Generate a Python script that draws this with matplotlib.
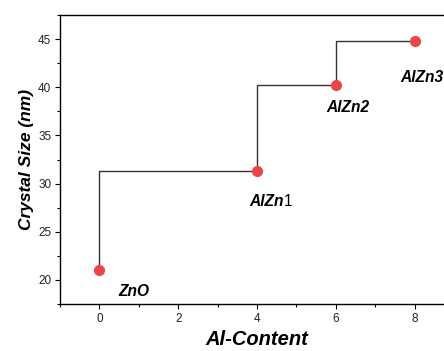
import matplotlib
matplotlib.use("Agg")
import matplotlib.pyplot as plt

plt.rcParams['font.family'] = ['Liberation Sans', 'DejaVu Sans']

al_content = [0, 4, 6, 8]
crystal_size = [21.0, 31.3, 40.2, 44.8]
sample_names = ["ZnO", "AlZn1", "AlZn2", "AlZn3"]
label_pos = [(0.87, 18.3), (4.68, 27.65), (6.3, 37.45), (8.18, 40.55)]
x_ticks = [0, 2, 4, 6, 8]
y_ticks = [20, 25, 30, 35, 40, 45]

fig = plt.figure(figsize=(4.44, 3.51), dpi=100)
ax = fig.add_axes([60/444, 1-304/351, 394/444, 289/351])

ax.plot(al_content, crystal_size, drawstyle='steps-pre', color='#333333', lw=1.0, zorder=2)
ax.plot(al_content, crystal_size, 'o', color='#ef4444', ms=7.0, mec='#ef4444', zorder=3)

label_font = dict(fontsize=11.2, fontweight='bold', fontstyle='italic')
for name, (lx, ly) in zip(sample_names, label_pos):
    if name == "AlZn1":
        t = ax.text(lx, ly, "AlZn", ha='right', va='baseline', **label_font)
        ax.annotate("1", xy=(1, 0), xycoords=t, fontsize=11.2, ha='left', va='bottom')
    else:
        ax.text(lx, ly, name, ha='center', va='baseline', **label_font)

ax.set_xlim(-1, 9)
ax.set_ylim(17.5, 47.5)
ax.set_xticks(x_ticks)
ax.set_yticks(y_ticks)
ax.set_xticks([-1, 1, 3, 5, 7], minor=True)
ax.set_yticks([17.5, 22.5, 27.5, 32.5, 37.5, 42.5, 47.5], minor=True)
ax.tick_params(axis='both', which='major', direction='out', length=3.8, width=0.8,
               labelsize=8.5, labelcolor='#222222', pad=2.5)
ax.tick_params(axis='both', which='minor', direction='out', length=2.2, width=0.8)
ax.tick_params(axis='both', top=False, right=False)

for side in ['left', 'bottom', 'top']:
    ax.spines[side].set_linewidth(1.0)
ax.spines['right'].set_visible(False)

ax.set_xlabel("Al-Content", fontsize=14.5, fontweight='bold', fontstyle='italic', labelpad=4)
ax.set_ylabel("Crystal Size (nm)", fontsize=12.5, fontweight='bold', fontstyle='italic', labelpad=3)

fig.savefig("out.png", dpi=100)
